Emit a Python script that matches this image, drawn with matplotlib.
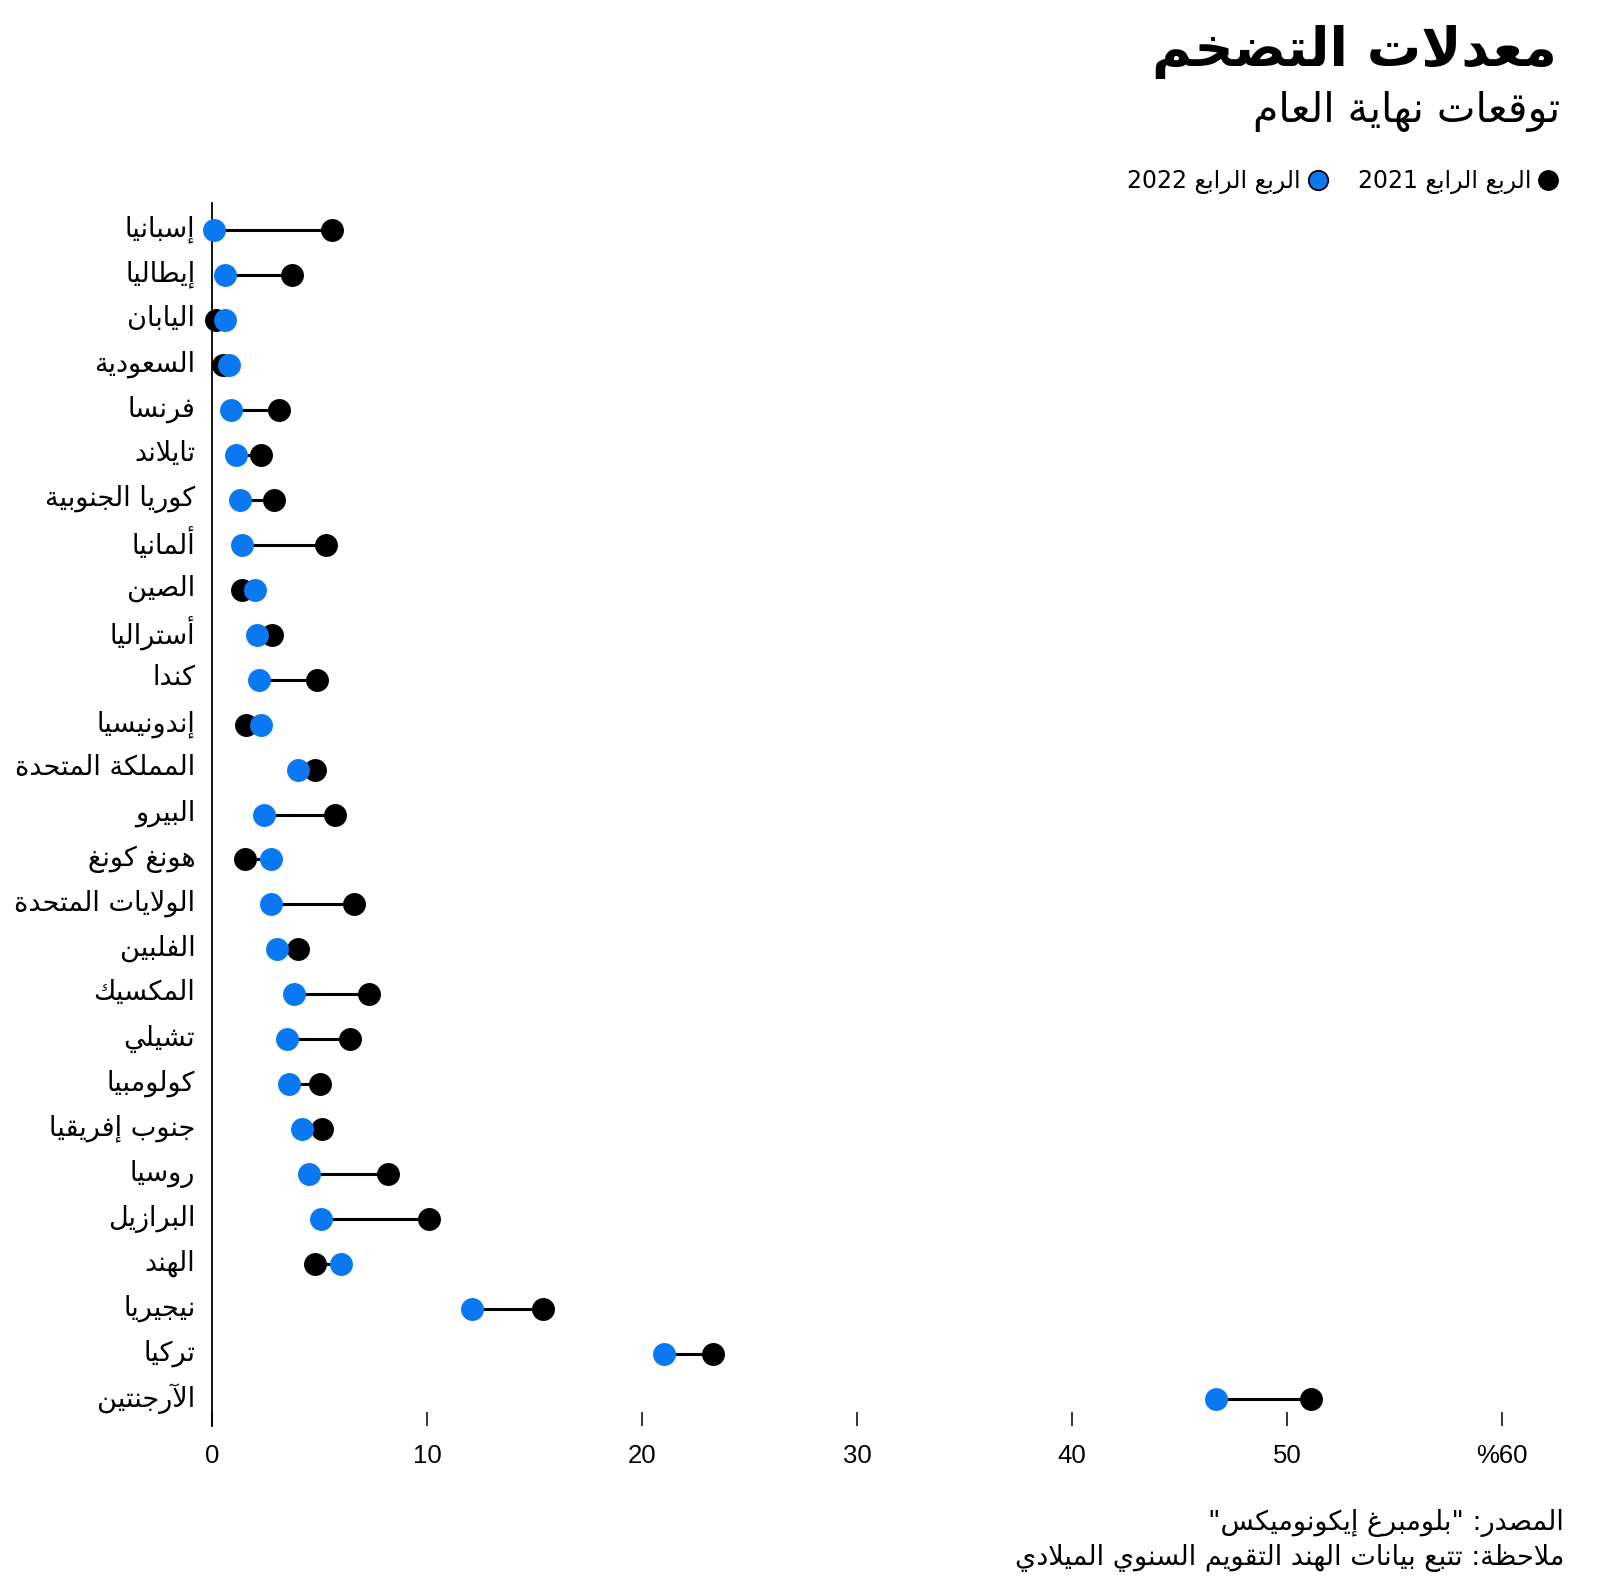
import re
import matplotlib
matplotlib.use("Agg")
import matplotlib.pyplot as plt
import matplotlib.transforms as mtransforms
from matplotlib.lines import Line2D

# ---------------- data ----------------
countries = ['إسبانيا', 'إيطاليا', 'اليابان', 'السعودية', 'فرنسا', 'تايلاند',
             'كوريا الجنوبية', 'ألمانيا', 'الصين', 'أستراليا', 'كندا', 'إندونيسيا',
             'المملكة المتحدة', 'البيرو', 'هونغ كونغ', 'الولايات المتحدة', 'الفلبين',
             'المكسيك', 'تشيلي', 'كولومبيا', 'جنوب إفريقيا', 'روسيا', 'البرازيل',
             'الهند', 'نيجيريا', 'تركيا', 'الآرجنتين']
q4_2021 = [5.6, 3.7, 0.2, 0.5, 3.1, 2.3, 2.9, 5.3, 1.4, 2.8, 4.9, 1.6, 4.8, 5.7,
           1.55, 6.6, 4.0, 7.3, 6.4, 5.0, 5.1, 8.2, 10.1, 4.8, 15.4, 23.3, 51.1]
q4_2022 = [0.1, 0.6, 0.6, 0.8, 0.9, 1.1, 1.3, 1.4, 2.0, 2.1, 2.2, 2.3, 4.0, 2.4,
           2.75, 2.75, 3.0, 3.8, 3.5, 3.6, 4.2, 4.5, 5.05, 6.0, 12.1, 21.0, 46.7]
xticks = [0, 10, 20, 30, 40, 50, 60]
xtick_labels = ['0', '10', '20', '30', '40', '50', '%60']
series_names = ['الربع الرابع 2021', 'الربع الرابع 2022']
title = 'معدلات التضخم'
subtitle = 'توقعات نهاية العام'
source = 'المصدر: "بلومبرغ إيكونوميكس"'
note = 'ملاحظة: تتبع بيانات الهند التقويم السنوي الميلادي'

BLUE = '#0A78F0'

# ---------------- minimal Arabic shaping ----------------
DUAL = {0x626: 0xFE89, 0x628: 0xFE8F, 0x62A: 0xFE95, 0x62B: 0xFE99, 0x62C: 0xFE9D,
        0x62D: 0xFEA1, 0x62E: 0xFEA5, 0x633: 0xFEB1, 0x634: 0xFEB5, 0x635: 0xFEB9,
        0x636: 0xFEBD, 0x637: 0xFEC1, 0x638: 0xFEC5, 0x639: 0xFEC9, 0x63A: 0xFECD,
        0x641: 0xFED1, 0x642: 0xFED5, 0x643: 0xFED9, 0x644: 0xFEDD, 0x645: 0xFEE1,
        0x646: 0xFEE5, 0x647: 0xFEE9, 0x64A: 0xFEF1}
RIGHT = {0x622: 0xFE81, 0x623: 0xFE83, 0x624: 0xFE85, 0x625: 0xFE87, 0x627: 0xFE8D,
         0x629: 0xFE93, 0x62F: 0xFEA9, 0x630: 0xFEAB, 0x631: 0xFEAD, 0x632: 0xFEAF,
         0x648: 0xFEED, 0x649: 0xFEEF}
NONE = {0x621: 0xFE80}
LAMALEF = {0x622: 0xFEF5, 0x623: 0xFEF7, 0x625: 0xFEF9, 0x627: 0xFEFB}


def _jtype(t):
    if isinstance(t, tuple):
        return 'R'
    o = ord(t)
    if o in DUAL:
        return 'D'
    if o in RIGHT:
        return 'R'
    if o in NONE:
        return 'U'
    return None


def shape(s):
    items = []
    i = 0
    while i < len(s):
        c = s[i]
        if ord(c) == 0x644 and i + 1 < len(s) and ord(s[i + 1]) in LAMALEF:
            items.append(('LA', ord(s[i + 1])))
            i += 2
        else:
            items.append(c)
            i += 1
    out = []
    n = len(items)
    for k, t in enumerate(items):
        jt = _jtype(t)
        if jt is None:
            out.append(t)
            continue
        prev = _jtype(items[k - 1]) if k > 0 else None
        nxt = _jtype(items[k + 1]) if k + 1 < n else None
        cp = prev == 'D' and jt in ('D', 'R')
        cn = jt == 'D' and nxt in ('D', 'R')
        if isinstance(t, tuple):
            b = LAMALEF[t[1]]
            out.append(chr(b + 1 if cp else b))
        elif jt == 'D':
            b = DUAL[ord(t)]
            if cp and cn:
                out.append(chr(b + 3))
            elif cp:
                out.append(chr(b + 1))
            elif cn:
                out.append(chr(b + 2))
            else:
                out.append(chr(b))
        elif jt == 'R':
            b = RIGHT[ord(t)]
            out.append(chr(b + 1 if cp else b))
        else:
            out.append(chr(NONE[ord(t)]))
    return ''.join(out)


def ar(s):
    r = shape(s)[::-1]
    r = re.sub(r'[0-9A-Za-z]+', lambda m: m.group(0)[::-1], r)
    return r


# ---------------- figure ----------------
plt.rcParams['font.family'] = ['DejaVu Sans']
W, H = 1600, 1583
fig = plt.figure(figsize=(W / 100, H / 100), dpi=100)
fig.patch.set_facecolor('white')

ax_left, ax_right = 212 / W, 1502 / W
ax_top, ax_bot = 1 - 203 / H, 1 - 1426 / H
ax = fig.add_axes([ax_left, ax_bot, ax_right - ax_left, ax_top - ax_bot])

n = len(countries)
ypos = list(range(n))
for i in ypos:
    ax.plot([q4_2021[i], q4_2022[i]], [i, i], color='black', lw=2.2,
            solid_capstyle='butt', zorder=2, clip_on=False)
ax.plot(q4_2021, ypos, 'o', ms=16.5, color='black', mec='none', zorder=3, clip_on=False)
ax.plot(q4_2022, ypos, 'o', ms=16.5, color=BLUE, mec='none', zorder=4, clip_on=False)

ax.set_xlim(0, 60)
ax.set_ylim(n - 1 + 0.6, -0.6)
for sp in ['top', 'right', 'bottom']:
    ax.spines[sp].set_visible(False)
ax.spines['left'].set_linewidth(1.3)
ax.set_xticks(xticks)
ax.set_xticklabels(xtick_labels, family=['Liberation Sans', 'DejaVu Sans'], fontsize=18.5)
ax.tick_params(axis='x', direction='in', length=10, width=1.1, pad=13, colors='black')
ax.set_yticks(ypos)
ax.set_yticklabels([ar(c) for c in countries], fontsize=19.5)
ax.tick_params(axis='y', length=0, pad=12)
shift = mtransforms.ScaledTranslation(0, 3 / 72, fig.dpi_scale_trans)
for lbl in ax.get_yticklabels():
    lbl.set_transform(lbl.get_transform() + shift)

# title and subtitle
fig.text(1557 / W, 1 - 52 / H, ar(title), ha='right', va='center',
         fontsize=39, fontweight='bold')
fig.text(1560 / W, 1 - 112 / H, ar(subtitle), ha='right', va='center', fontsize=29.5)

# legend
handles = [Line2D([], [], marker='o', ls='none', ms=14, mfc=BLUE, mec='black', mew=1.3),
           Line2D([], [], marker='o', ls='none', ms=14, mfc='black', mec='black')]
labels = [ar(series_names[1]), ar(series_names[0])]
fig.legend(handles, labels, loc='center right', bbox_to_anchor=(1569 / W, 1 - 182 / H),
           ncol=2, markerfirst=False, frameon=False, fontsize=17,
           handletextpad=0.2, columnspacing=1.2, handlelength=1.0, borderaxespad=0)

# footer
fig.text(1564 / W, 1 - 1523 / H, ar(source), ha='right', va='center', fontsize=19.5)
fig.text(1564 / W, 1 - 1558 / H, ar(note), ha='right', va='center', fontsize=19.5)

fig.savefig('out.png', dpi=100, facecolor='white')
